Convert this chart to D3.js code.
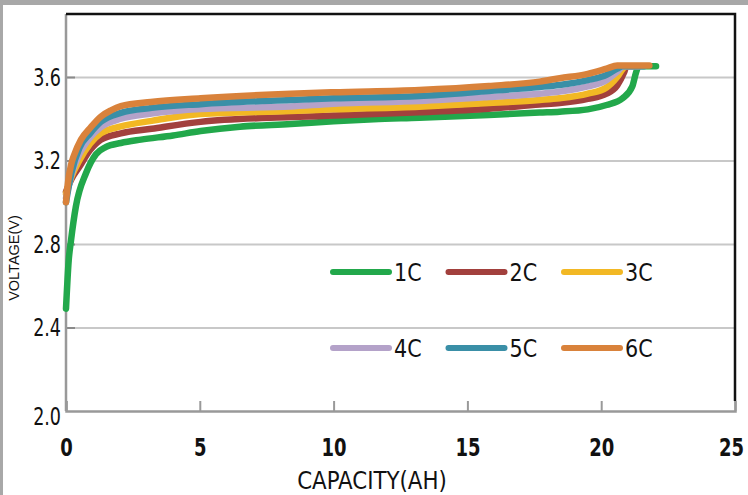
<!DOCTYPE html>
<html>
<head>
<meta charset="utf-8">
<script src="https://cdn.jsdelivr.net/npm/d3@7"></script>
<style>
  html, body { margin: 0; padding: 0; background: #a8a8a8; }
  svg { display: block; }
</style>
</head>
<body>
<svg id="chart" width="748" height="495"></svg>
<script>
// ---- Data (capacity in Ah, voltage in V) ----
const seriesNames = ["1C", "2C", "3C", "4C", "5C", "6C"];
const seriesColors = ["#22a84b", "#a2403d", "#f2b824", "#b4a2c9", "#3a8fa7", "#d9823b"];

const curve1C = [[0,2.49],[0.1,2.72],[0.19,2.82],[0.37,2.98],[0.75,3.14],[1.12,3.23],[1.5,3.265],[2.05,3.284],[2.8,3.30],[4.0,3.32],[5.03,3.341],[6.5,3.362],[8.4,3.375],[10,3.388],[11.5,3.398],[13.2,3.405],[15.8,3.418],[17.7,3.43],[18.45,3.434],[19.5,3.445],[20.2,3.466],[20.8,3.498],[21.16,3.554],[21.3,3.62],[21.4,3.652],[22.05,3.652]];
const curve2C = [[0,3.05],[0.2,3.11],[0.5,3.17],[0.9,3.25],[1.3,3.30],[2.05,3.33],[3.2,3.352],[5.03,3.385],[8.4,3.408],[10,3.415],[13.2,3.431],[15.8,3.448],[17.7,3.468],[18.45,3.475],[19.5,3.495],[20.2,3.52],[20.6,3.56],[20.85,3.62],[20.95,3.652],[21.3,3.652]];
const curve3C = [[0,3.04],[0.2,3.12],[0.5,3.2],[0.9,3.28],[1.3,3.33],[2.05,3.363],[3.2,3.39],[5.03,3.423],[8.4,3.437],[10,3.445],[13.2,3.458],[15.8,3.475],[17.7,3.49],[18.45,3.498],[19.5,3.52],[20.2,3.55],[20.6,3.6],[20.85,3.645],[20.95,3.652],[21.4,3.652]];
const curve4C = [[0,3.02],[0.2,3.13],[0.5,3.23],[0.9,3.31],[1.3,3.36],[2.05,3.40],[3.2,3.425],[5.03,3.447],[8.4,3.459],[10,3.472],[13.2,3.485],[15.8,3.504],[17.7,3.52],[18.45,3.53],[19.5,3.555],[20.2,3.585],[20.6,3.625],[20.85,3.652],[21.5,3.652]];
const curve5C = [[0,3.0],[0.2,3.14],[0.5,3.26],[0.9,3.33],[1.3,3.385],[2.05,3.428],[3.2,3.452],[5.03,3.47],[8.4,3.49],[10,3.498],[13.2,3.509],[15.8,3.533],[17.7,3.552],[18.45,3.562],[19.5,3.585],[20.2,3.61],[20.6,3.64],[20.8,3.652],[21.6,3.652]];
const curve6C = [[0,3.0],[0.08,3.1],[0.19,3.18],[0.3,3.225],[0.56,3.30],[0.93,3.36],[1.3,3.41],[1.68,3.44],[2.05,3.46],[3.17,3.48],[5.03,3.498],[8.4,3.52],[10,3.527],[13.2,3.538],[15.8,3.557],[17.7,3.578],[18.45,3.594],[19.5,3.615],[20.2,3.64],[20.6,3.655],[21.8,3.655]];
const seriesCurves = [curve1C, curve2C, curve3C, curve4C, curve5C, curve6C];

const xTickValues = [0, 5, 10, 15, 20, 25];
const yTickValues = [2.0, 2.4, 2.8, 3.2, 3.6];
const yTickLabels = ["2.0", "2.4", "2.8", "3.2", "3.6"];
const xAxisTitle = "CAPACITY(AH)";
const yAxisTitle = "VOLTAGE(V)";

// ---- Layout ----
const svg = d3.select("#chart");
const W = 748, H = 495;
const mLeft = 66, mRight = 735, mTop = 14, mBottom = 411;
const narrow = "'Liberation Sans Narrow', 'Arial Narrow', 'DejaVu Sans Condensed', sans-serif";

// horizontally condense a text around its anchor x
function squeeze(sel, f) {
  sel.each(function () {
    const t = d3.select(this);
    const ax = +(t.attr("x") || 0);
    t.attr("transform", `translate(${ax},0) scale(${f},1) translate(${-ax},0)`);
  });
}

svg.append("rect").attr("x", 3).attr("y", 5).attr("width", W - 3).attr("height", H - 5).attr("fill", "#ffffff");

const x = d3.scaleLinear().domain([0, 25]).range([mLeft, mRight]);
const y = d3.scaleLinear().domain([2.0, 3.6]).range([mBottom, 77]);

// gridlines
const grid = svg.append("g").attr("transform", `translate(${mLeft},0)`)
  .call(d3.axisLeft(y).tickValues(yTickValues.slice(1)).tickSize(-(mRight - mLeft)).tickFormat(""));
grid.select(".domain").remove();
grid.selectAll("line").attr("stroke", "#c8c8c8").attr("stroke-width", 2);

// short inner tick stubs on y axis
const ystub = svg.append("g").attr("transform", `translate(${mLeft},0)`)
  .call(d3.axisRight(y).tickValues(yTickValues.slice(1)).tickSize(9).tickFormat(""));
ystub.select(".domain").remove();
ystub.selectAll("line").attr("stroke", "#8a8a8a").attr("stroke-width", 2);

// y labels
const yAx = svg.append("g").attr("transform", `translate(${mLeft},0)`)
  .call(d3.axisLeft(y).tickValues(yTickValues).tickSize(0).tickPadding(5)
    .tickFormat((d, i) => yTickLabels[i]));
yAx.select(".domain").remove();
yAx.selectAll("text").attr("font-family", narrow).attr("font-size", 25).attr("fill", "#111").call(squeeze, 0.78);
yAx.selectAll("text").filter(d => d === 2.0).attr("dy", "0.55em");

// x axis with inner ticks
const xAx = svg.append("g").attr("transform", `translate(0,${mBottom})`)
  .call(d3.axisBottom(x).tickValues(xTickValues).tickSize(-10).tickSizeOuter(-10).tickPadding(27).tickFormat(d3.format("d")));
xAx.select(".domain").attr("stroke", "#999").attr("stroke-width", 2.5).attr("fill", "none");
xAx.selectAll("line").attr("stroke", "#999").attr("stroke-width", 2);
xAx.selectAll("text").attr("font-family", narrow).attr("font-size", 25).attr("font-weight", "bold").attr("fill", "#111").call(squeeze, 0.8);
xAx.selectAll("text").filter(d => d === 25).attr("x", -4).call(squeeze, 0.8);

// left axis line
svg.append("line").attr("x1", mLeft).attr("x2", mLeft).attr("y1", mTop).attr("y2", mBottom)
  .attr("stroke", "#999").attr("stroke-width", 2.5);
// top & right black frame
svg.append("path").attr("d", `M${mLeft},${mTop}H${mRight}V${mBottom - 10}`)
  .attr("fill", "none").attr("stroke", "#111").attr("stroke-width", 2.5);

// curves
const line = d3.line().x(d => x(d[0])).y(d => y(d[1])).curve(d3.curveMonotoneX);
svg.append("g").selectAll("path").data(seriesCurves).join("path")
  .attr("d", line)
  .attr("fill", "none")
  .attr("stroke", (d, i) => seriesColors[i])
  .attr("stroke-width", 6.5)
  .attr("stroke-linecap", "round")
  .attr("stroke-linejoin", "round");

// legend
const legend = svg.append("g");
seriesNames.forEach((name, i) => {
  const col = i % 3, row = Math.floor(i / 3);
  const lx = 333 + col * 115.5, ly = 272 + row * 76;
  legend.append("line").attr("x1", lx).attr("x2", lx + 56).attr("y1", ly).attr("y2", ly)
    .attr("stroke", seriesColors[i]).attr("stroke-width", 6).attr("stroke-linecap", "round");
  legend.append("text").attr("x", lx + 61).attr("y", ly).attr("dy", "0.36em")
    .attr("font-family", narrow).attr("font-size", 25).attr("fill", "#111").text(name).call(squeeze, 0.92);
});

// axis titles
svg.append("text").attr("x", 372).attr("y", 480).attr("dy", "0.36em")
  .attr("text-anchor", "middle").attr("font-family", narrow).attr("font-size", 25).attr("fill", "#111")
  .text(xAxisTitle).call(squeeze, 0.95);
svg.append("text").attr("transform", "translate(14,258) rotate(-90)").attr("dy", "0.36em")
  .attr("text-anchor", "middle").attr("font-family", "'Liberation Sans', Arial, sans-serif").attr("font-size", 14.5).attr("fill", "#111")
  .text(yAxisTitle);
</script>
</body>
</html>
